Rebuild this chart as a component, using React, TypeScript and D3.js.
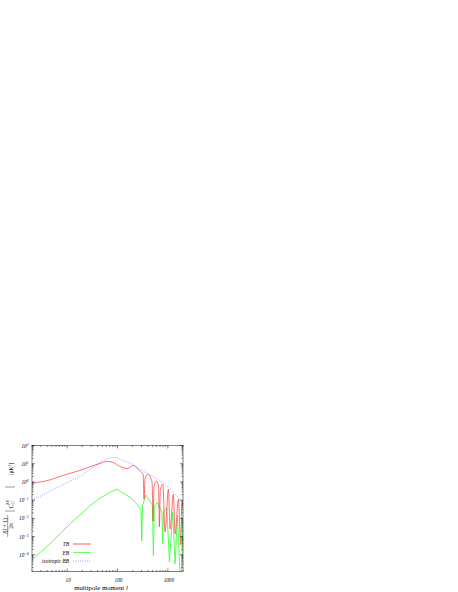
import React from 'react';
import * as d3 from 'd3';

// ---- data ----
const tbL = [2, 4.6, 7.2, 11.4, 18, 28, 45, 62, 81, 112, 141, 160, 204, 244, 281, 322, 337, 353, 405, 486, 509, 533, 603, 655, 679, 708, 793, 881, 1026, 1109, 1288, 1393, 1622, 1792, 1920, 2000];
const tbV = [0.85, 1.31, 2.0, 2.97, 4.3, 6.7, 10.4, 13.4, 11.8, 7.1, 5.6, 5.4, 8.1, 5.6, 3.8, 2.6, 0.113, 1.58, 2.6, 0.96, 0.0071, 0.58, 1.13, 0.45, 0.0034, 0.35, 0.745, 0.0018, 0.40, 0.0026, 0.21, 0.0014, 0.113, 0.00035, 0.068, 0.053];

const ebL = [2, 4.56, 11.4, 28.4, 45, 71, 98, 112, 141, 177, 244, 294, 303, 315, 369, 493, 516, 540, 620, 761, 793, 823, 952, 1074, 1254, 1393, 1549, 1808, 2000];
const ebV = [5.3e-5, 4.0e-4, 0.0049, 0.049, 0.128, 0.27, 0.40, 0.31, 0.21, 0.146, 0.060, 0.028, 5.8e-4, 0.053, 0.19, 0.053, 8.8e-5, 0.047, 0.075, 0.022, 4.0e-4, 0.022, 0.040, 4.1e-5, 0.021, 3.2e-5, 0.0139, 1.0e-6, 0.0071];

const bbL = [2, 4.56, 7.2, 11.4, 18, 28.4, 45, 71, 98, 112, 141, 204, 281, 509, 966, 1527, 2000];
const bbV = [0.094, 0.31, 0.58, 1.09, 2.0, 4.9, 11.8, 20.8, 22, 17, 13.4, 9.2, 4.9, 2.0, 0.58, 0.165, 0.060];

const xTickVals = [10, 100, 1000];
const xTickLabels = ['10', '100', '1000'];
const yTickExps = [2, 1, 0, -1, -2, -3, -4];

const legendNames = ['TB', 'EB', 'isotropic BB'];

const FONT = '"Liberation Serif", "DejaVu Serif", serif';
const RED = '#ff3030';
const GREEN = '#44ff44';
const BLUE = '#7a7aff';

export default function App() {
  const left = 32, right = 183, top = 445.5, bottom = 571.5;
  const x = d3.scaleLog().domain([2, 2000]).range([left, right]);
  const y = d3.scaleLog().domain([1.2e-5, 100]).range([bottom, top]);

  const mk = (L: number[], V: number[], curve: any) =>
    d3.line<number>()
      .x((_, i) => x(L[i]))
      .y((_, i) => y(Math.max(V[i], 1e-7)))
      .curve(curve)(V) || '';

  const xMinor: number[] = [];
  for (let d = 0; d <= 3; d++) for (let k = 2; k <= 9; k++) {
    const v = k * Math.pow(10, d);
    if (v >= 2 && v <= 2000) xMinor.push(v);
  }
  const yMinor: number[] = [];
  for (let d = -5; d <= 1; d++) for (let k = 2; k <= 9; k++) {
    const v = k * Math.pow(10, d);
    if (v >= 1.2e-5 && v <= 100) yMinor.push(v);
  }
  const yMajor = yTickExps.map(e => Math.pow(10, e));

  const ticks: any[] = [];
  xMinor.forEach((v, i) => {
    ticks.push(<line key={'xm' + i} x1={x(v)} x2={x(v)} y1={bottom} y2={bottom - 1.5} />);
    ticks.push(<line key={'xmt' + i} x1={x(v)} x2={x(v)} y1={top} y2={top + 1.5} />);
  });
  xTickVals.forEach((v, i) => {
    ticks.push(<line key={'xM' + i} x1={x(v)} x2={x(v)} y1={bottom} y2={bottom - 3} />);
    ticks.push(<line key={'xMt' + i} x1={x(v)} x2={x(v)} y1={top} y2={top + 3} />);
  });
  yMinor.forEach((v, i) => {
    ticks.push(<line key={'ym' + i} x1={left} x2={left + 1.5} y1={y(v)} y2={y(v)} />);
    ticks.push(<line key={'ymr' + i} x1={right} x2={right - 1.5} y1={y(v)} y2={y(v)} />);
  });
  yMajor.forEach((v, i) => {
    ticks.push(<line key={'yM' + i} x1={left} x2={left + 3} y1={y(v)} y2={y(v)} />);
    ticks.push(<line key={'yMr' + i} x1={right} x2={right - 3} y1={y(v)} y2={y(v)} />);
  });

  const legendY = [544, 552.5, 561];
  const legendColors = [RED, GREEN, BLUE];

  return (
    <svg width={458} height={592} style={{ position: 'absolute', left: 0, top: 0 }} fontFamily={FONT}>
      <defs>
        <clipPath id="plotclip">
          <rect x={left} y={top} width={right - left} height={bottom - top} />
        </clipPath>
      </defs>
      <g clipPath="url(#plotclip)" fill="none">
        <path d={mk(bbL, bbV, d3.curveMonotoneX)} stroke={BLUE} strokeWidth={0.7} strokeDasharray="1,1.3" />
        <path d={mk(ebL, ebV, d3.curveLinear)} stroke={GREEN} strokeWidth={0.9} />
        <path d={mk(tbL, tbV, d3.curveMonotoneX)} stroke={RED} strokeWidth={0.7} />
      </g>
      <g stroke="#000" strokeWidth={0.5}>
        {ticks}
        <rect x={left} y={top} width={right - left} height={bottom - top} fill="none" />
      </g>
      {/* y tick labels */}
      {yTickExps.map((e, i) => (
        <text key={'yl' + i} x={28.5} y={y(Math.pow(10, e)) + 2} fontSize={5.2} fontStyle="italic" textAnchor="end" fill="#000">
          10<tspan dy={-2} fontSize={3.6}>{e < 0 ? '\u2212' + Math.abs(e) : String(e)}</tspan>
        </text>
      ))}
      {/* x tick labels */}
      {xTickVals.map((v, i) => (
        <text key={'xl' + i} x={x(v) + 1} y={581.5} fontSize={5.2} fontStyle="italic" textAnchor="middle" fill="#000">
          {xTickLabels[i]}
        </text>
      ))}
      <text x={101} y={590} fontSize={6.8} textAnchor="middle" fill="#000">
        multipole moment <tspan fontStyle="italic">l</tspan>
      </text>
      {/* y axis label */}
      <g transform="translate(9,498) rotate(-90)" fill="#000">
        <text x={-28} y={-2.5} fontSize={5.6} textAnchor="middle">
          <tspan fontStyle="italic">l</tspan>(<tspan fontStyle="italic">l</tspan> + 1)
        </text>
        <line x1={-39} x2={-17} y1={-1.3} y2={-1.3} stroke="#000" strokeWidth={0.4} />
        <text x={-28} y={4} fontSize={5.6} textAnchor="middle">2π</text>
        <line x1={-13} x2={-13} y1={-4} y2={6} stroke="#000" strokeWidth={0.4} />
        <text x={-10.5} y={3.5} fontSize={6} fontStyle="italic">
          C<tspan dy={1.8} fontSize={3.8}>l,l</tspan><tspan dx={-3.5} dy={-5} fontSize={3.8}>XX′</tspan>
        </text>
        <line x1={11} x2={11} y1={-4} y2={6} stroke="#000" strokeWidth={0.4} />
        <text x={29} y={3.5} fontSize={5.6} textAnchor="middle">
          [μK<tspan dy={-2} fontSize={3.8}>2</tspan><tspan dy={2}>]</tspan>
        </text>
      </g>
      {/* legend */}
      {legendNames.map((n, i) => (
        <g key={'lg' + i}>
          <text x={69} y={legendY[i] + 2} fontSize={5.4} fontStyle="italic" textAnchor="end" fill="#000">{n}</text>
          <line x1={73} x2={91} y1={legendY[i]} y2={legendY[i]} stroke={legendColors[i]} strokeWidth={0.8}
            strokeDasharray={i === 2 ? '1,1.3' : undefined} />
        </g>
      ))}
    </svg>
  );
}
